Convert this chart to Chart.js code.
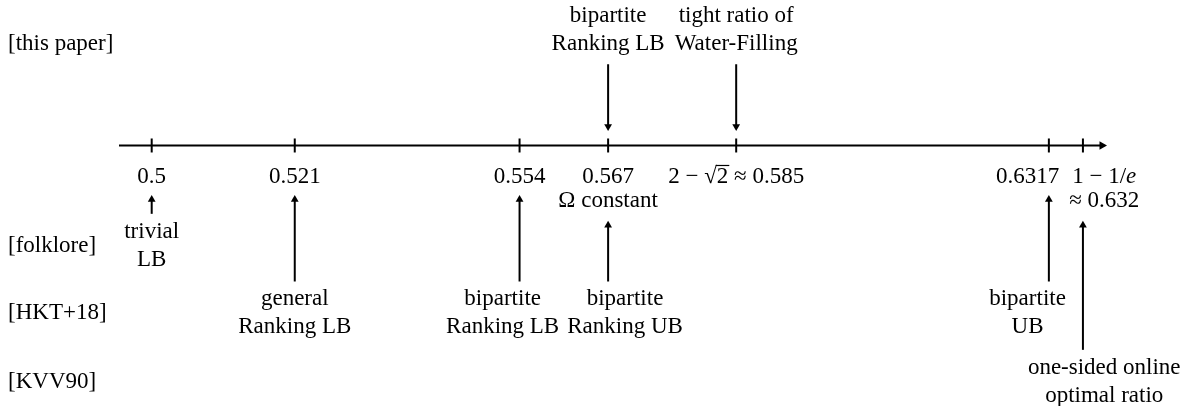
<!DOCTYPE html>
<html>
<head>
    <title>Competitive ratios on a number line</title>
    <script src="https://cdn.jsdelivr.net/npm/chart.js@4.4.0/dist/chart.umd.min.js"></script>
    <style>
        html, body { margin: 0; padding: 0; background: #fff; }
        #wrap { width: 1186px; height: 406px; }
    </style>
</head>
<body>
    <div id="wrap"><canvas id="ratioChart"></canvas></div>

    <script>
        // values marked on the line and the text under each tick
        const tickValues = [0.5, 0.521, 0.554, 0.567, 0.5858, 0.6317, 0.6321];
        const tickLabels = [
            ['0.5'], ['0.521'], ['0.554'], ['0.567', 'Ω constant'],
            ['2 − √2 ≈ 0.585'], ['0.6317'], ['1 − 1/e', '≈ 0.632']
        ];

        // sources, one per row
        const rowNames = ['[this paper]', '[folklore]', '[HKT+18]', '[KVV90]'];

        // each result: the value it points at, its row and its caption
        const resultValues = [0.567, 0.5858, 0.5, 0.521, 0.554, 0.567, 0.6317, 0.6321];
        const resultRows = [0, 0, 1, 2, 2, 2, 2, 3];
        const resultLabels = [
            ['bipartite', 'Ranking LB'], ['tight ratio of', 'Water-Filling'],
            ['trivial', 'LB'], ['general', 'Ranking LB'], ['bipartite', 'Ranking LB'],
            ['bipartite', 'Ranking UB'], ['bipartite', 'UB'],
            ['one-sided online', 'optimal ratio']
        ];

        // layout
        const rowLevels = [1.5, -1.48, -2.48, -3.49];
        const X_MIN = 0.4952, X_MAX = 0.6349;
        const MIN_GAP = 0.005;
        const FONT = '23px "Liberation Serif"';

        // linear scale that spreads ticks which would sit on top of each other
        class SchematicScale extends Chart.LinearScale {
            warp(v) {
                let w = v;
                for (let i = 0; i + 1 < tickValues.length; i++) {
                    const d = tickValues[i + 1] - tickValues[i];
                    if (d < MIN_GAP) {
                        w += (MIN_GAP - d) * Math.min(1, Math.max(0, (v - tickValues[i]) / d));
                    }
                }
                return w;
            }
            getPixelForValue(value) {
                const lo = this.warp(this.min), hi = this.warp(this.max);
                return this.getPixelForDecimal((this.warp(value) - lo) / (hi - lo));
            }
        }
        SchematicScale.id = 'schematic';
        SchematicScale.defaults = Chart.LinearScale.defaults;
        Chart.register(SchematicScale);

        // push overlapping text blocks apart, returns new centres
        function spread(items, gap) {
            const order = items.map((it, i) => i).sort((a, b) => items[a].cx - items[b].cx);
            const out = items.map(it => it.cx);
            for (let n = 0; n + 1 < order.length; n++) {
                const a = order[n], b = order[n + 1];
                const overlap = (out[a] + items[a].w / 2 + gap) - (out[b] - items[b].w / 2);
                if (overlap > 0) {
                    out[a] -= overlap / 2;
                    out[b] += overlap / 2;
                }
            }
            return out;
        }

        function blockWidth(ctx, lines) {
            return Math.max(...lines.map(t => ctx.measureText(t).width));
        }

        // text with an overlined square root and an italic e
        function drawMath(ctx, text, cx, cy) {
            const italic = /\/e$/.test(text);
            const body = italic ? text.slice(0, -1) : text;
            const wBody = ctx.measureText(body).width;
            let wE = 0;
            if (italic) {
                ctx.font = 'italic ' + FONT;
                wE = ctx.measureText('e').width;
                ctx.font = FONT;
            }
            const left = cx - (wBody + wE) / 2;
            ctx.textAlign = 'left';
            ctx.fillText(body, left, cy);
            if (italic) {
                ctx.font = 'italic ' + FONT;
                ctx.fillText('e', left + wBody, cy);
                ctx.font = FONT;
            }
            const r = body.indexOf('√');
            if (r >= 0) {
                const x0 = left + ctx.measureText(body.slice(0, r + 1)).width - 1;
                const x1 = left + ctx.measureText(body.slice(0, r + 2)).width + 1;
                ctx.strokeStyle = '#000';
                ctx.lineWidth = 1.2;
                ctx.beginPath();
                ctx.moveTo(x0, cy - 11);
                ctx.lineTo(x1, cy - 11);
                ctx.stroke();
            }
            ctx.textAlign = 'center';
        }

        const labelPlugin = {
            id: 'numberLineLabels',
            afterDatasetsDraw(chart) {
                const { ctx, scales: { x, y } } = chart;
                ctx.save();
                ctx.fillStyle = '#000';
                ctx.font = FONT;
                ctx.textBaseline = 'middle';

                ctx.textAlign = 'left';
                rowNames.forEach((name, r) => ctx.fillText(name, 8, y.getPixelForValue(rowLevels[r])));

                // tick captions, crowded ones moved apart
                const axisY = y.getPixelForValue(0);
                const tickCx = spread(tickLabels.map((lines, k) => ({
                    cx: x.getPixelForValue(tickValues[k]),
                    w: blockWidth(ctx, lines)
                })), 10);
                ctx.textAlign = 'center';
                tickLabels.forEach((lines, k) => {
                    lines.forEach((t, i) => drawMath(ctx, t, tickCx[k], axisY + 31 + i * 24));
                });

                // result captions follow their column, then get spread within a row
                rowNames.forEach((name, r) => {
                    const idx = resultRows.map((row, i) => row === r ? i : -1).filter(i => i >= 0);
                    const cxs = spread(idx.map(i => ({
                        cx: tickCx[tickValues.indexOf(resultValues[i])],
                        w: blockWidth(ctx, resultLabels[i])
                    })), 8);
                    const level = rowLevels[r];
                    const cy = y.getPixelForValue(level);
                    idx.forEach((i, n) => {
                        const lines = resultLabels[i];
                        lines.forEach((t, j) => {
                            const ty = level > 0
                                ? cy - (lines.length - 1 - j) * 28
                                : cy + (j - (lines.length - 1) / 2) * 28;
                            ctx.fillText(t, cxs[n], ty);
                        });
                    });
                });
                ctx.restore();
            }
        };

        // datasets: axis with arrow head, tick marks, one arrow per result
        const datasets = [
            {
                type: 'line',
                data: [{ x: X_MIN, y: 0 }, { x: X_MAX, y: 0 }],
                borderColor: '#000',
                borderWidth: 2,
                pointStyle: 'triangle',
                pointRotation: 90,
                pointRadius: [0, 5],
                pointBackgroundColor: '#000',
                pointBorderWidth: 0,
                clip: false
            },
            {
                type: 'scatter',
                data: tickValues.map(v => ({ x: v, y: 0 })),
                pointStyle: 'line',
                pointRotation: 90,
                pointRadius: 7,
                borderColor: '#000',
                pointBorderColor: '#000',
                pointBorderWidth: 2
            }
        ];

        resultValues.forEach((v, i) => {
            const level = rowLevels[resultRows[i]];
            const above = level > 0;
            const nLines = tickLabels[tickValues.indexOf(v)].length;
            const tail = above ? level - 0.30 : level + 0.47;
            const tip = above ? 0.28 : (nLines > 1 ? -1.18 : -0.80);
            datasets.push({
                type: 'line',
                data: [{ x: v, y: tail }, { x: v, y: tip }],
                borderColor: '#000',
                borderWidth: 2,
                pointStyle: 'triangle',
                pointRotation: above ? 180 : 0,
                pointRadius: [0, 4.5],
                pointBackgroundColor: '#000',
                pointBorderWidth: 0,
                clip: false
            });
        });

        Chart.defaults.font.family = '"Liberation Serif", serif';

        new Chart(document.getElementById('ratioChart'), {
            type: 'scatter',
            data: { datasets },
            options: {
                responsive: true,
                maintainAspectRatio: false,
                animation: false,
                events: [],
                layout: { autoPadding: false, padding: { left: 119, right: 84, top: 0, bottom: 0 } },
                plugins: { legend: { display: false }, tooltip: { enabled: false } },
                scales: {
                    x: { type: 'schematic', min: X_MIN, max: X_MAX, bounds: 'data', display: false },
                    y: { type: 'linear', min: -3.85, max: 2.15, bounds: 'data', display: false }
                }
            },
            plugins: [labelPlugin]
        });
    </script>
</body>
</html>
